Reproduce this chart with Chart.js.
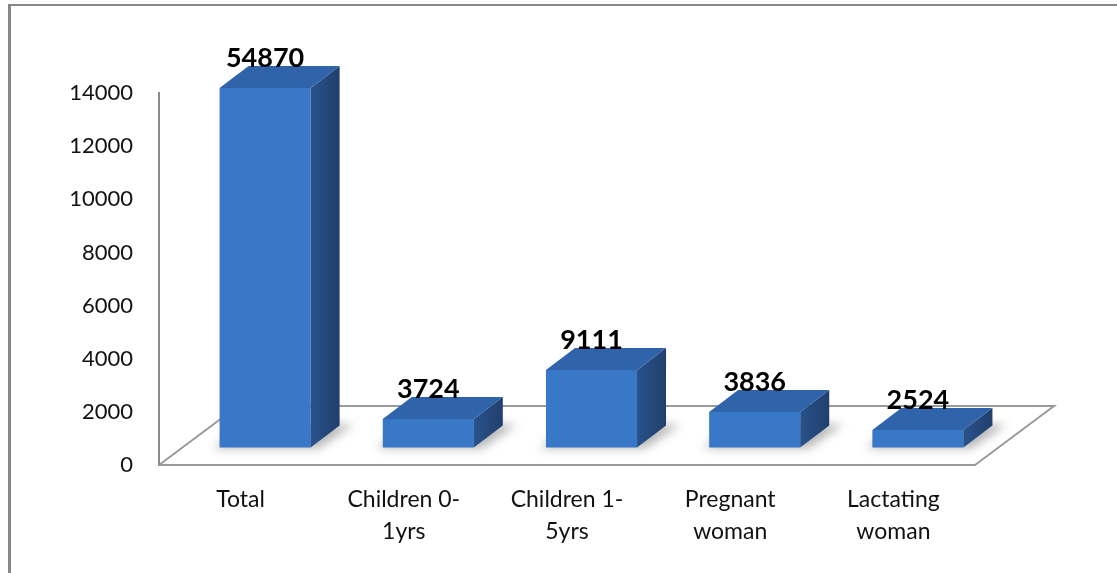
<!DOCTYPE html>
<html>
<head>
<meta charset="utf-8">
<script src="https://cdn.jsdelivr.net/npm/chart.js@4.4.1/dist/chart.umd.min.js"></script>
<style>
html, body { margin: 0; padding: 0; background: #fff; }
</style>
</head>
<body>
<canvas id="chart" width="1117" height="573"></canvas>
<script>
"use strict";

// data
const categories = [["Total"], ["Children 0-", "1yrs"], ["Children 1-", "5yrs"], ["Pregnant", "woman"], ["Lactating", "woman"]]
const bar_values = [13550, 1090, 2935, 1355, 680]
const bar_labels = ["54870", "3724", "9111", "3836", "2524"]
const y_ticks = [0, 2000, 4000, 6000, 8000, 10000, 12000, 14000]

// 3d look
const FRONT_DX = 24.5, FRONT_DY = -17    // bar front face inside the floor
const BAR_DX = 29, BAR_DY = -22          // bar depth
const FLOOR_DX = 79, FLOOR_DY = -59      // floor depth

const fake3d = {
    id: "fake3d",
    beforeDraw(chart) {
        const ctx = chart.ctx
        ctx.save()
        ctx.fillStyle = "#878787"
        ctx.fillRect(8, 4, 3, chart.height - 4)
        ctx.fillRect(8, 4, chart.width - 8, 2)
        ctx.restore()
    },
    beforeDatasetsDraw(chart) {
        const ctx = chart.ctx
        const a = chart.chartArea
        ctx.save()
        ctx.strokeStyle = "#9a9a9a"
        ctx.lineWidth = 2
        ctx.beginPath()
        ctx.moveTo(a.left, a.bottom)
        ctx.lineTo(a.left + FLOOR_DX, a.bottom + FLOOR_DY)
        ctx.lineTo(a.right + FLOOR_DX, a.bottom + FLOOR_DY)
        ctx.lineTo(a.right, a.bottom)
        ctx.stroke()

        // soft shadows on the floor
        ctx.filter = "blur(5px)"
        ctx.fillStyle = "rgba(0,0,0,0.28)"
        chart.getDatasetMeta(0).data.forEach(bar => {
            const l = bar.x - bar.width / 2 + FRONT_DX - 6
            const r = bar.x + bar.width / 2 + FRONT_DX + 8
            const b = bar.base + FRONT_DY + 1
            ctx.beginPath()
            ctx.moveTo(l, b)
            ctx.lineTo(r, b)
            ctx.lineTo(r + BAR_DX + 6, b + BAR_DY - 2)
            ctx.lineTo(l + BAR_DX, b + BAR_DY - 2)
            ctx.closePath()
            ctx.fill()
        })
        ctx.restore()

        ctx.save()
        ctx.translate(FRONT_DX, FRONT_DY)
    },
    afterDatasetsDraw(chart) {
        const ctx = chart.ctx
        ctx.restore()
        ctx.save()
        chart.getDatasetMeta(0).data.forEach((bar, i) => {
            const l = bar.x - bar.width / 2 + FRONT_DX
            const r = bar.x + bar.width / 2 + FRONT_DX
            const t = bar.y + FRONT_DY
            const b = bar.base + FRONT_DY

            // side face
            const sg = ctx.createLinearGradient(r, 0, r + BAR_DX, 0)
            sg.addColorStop(0, "#29528c")
            sg.addColorStop(1, "#213f6c")
            ctx.fillStyle = sg
            ctx.beginPath()
            ctx.moveTo(r, t)
            ctx.lineTo(r + BAR_DX, t + BAR_DY)
            ctx.lineTo(r + BAR_DX, b + BAR_DY)
            ctx.lineTo(r, b)
            ctx.closePath()
            ctx.fill()

            // top face
            ctx.fillStyle = "#2f63aa"
            ctx.beginPath()
            ctx.moveTo(l, t)
            ctx.lineTo(l + BAR_DX, t + BAR_DY)
            ctx.lineTo(r + BAR_DX, t + BAR_DY)
            ctx.lineTo(r, t)
            ctx.closePath()
            ctx.fill()

            // value label
            ctx.fillStyle = "#000"
            ctx.font = "bold 27px Lato"
            ctx.textAlign = "center"
            ctx.textBaseline = "alphabetic"
            ctx.fillText(bar_labels[i], (l + r) / 2, t + BAR_DY + 1)
        })
        ctx.restore()
    }
}

const data = {
    labels: categories,
    datasets: [
        {
            data: bar_values,
            backgroundColor: "#3977c7",
            borderWidth: 0,
            barPercentage: 0.558,
            categoryPercentage: 1,
            clip: false
        }
    ]
}

const config = {
    type: "bar",
    data: data,
    options: {
        responsive: false,
        animation: false,
        layout: { padding: { left: 0, right: 142, top: 93, bottom: 0 } },
        plugins: {
            legend: { display: false },
            tooltip: { enabled: false }
        },
        scales: {
            x: {
                grid: { drawOnChartArea: false, drawTicks: false },
                border: { color: "#9a9a9a", width: 2 },
                ticks: {
                    padding: 19,
                    color: "#111",
                    maxRotation: 0,
                    autoSkip: false,
                    font: { family: "Lato", size: 23, lineHeight: 1.38 }
                },
                afterFit: scale => { scale.height = 108 }
            },
            y: {
                min: y_ticks[0],
                max: y_ticks[y_ticks.length - 1],
                grid: { drawOnChartArea: false, drawTicks: false },
                border: { color: "#8a8a8a", width: 2 },
                ticks: {
                    stepSize: y_ticks[1] - y_ticks[0],
                    padding: 26,
                    color: "#111",
                    font: { family: "Lato", size: 22 },
                    callback: v => String(v)
                },
                afterFit: scale => { scale.width = 159 }
            }
        }
    },
    plugins: [fake3d]
}

new Chart(document.getElementById("chart"), config)
</script>
</body>
</html>
